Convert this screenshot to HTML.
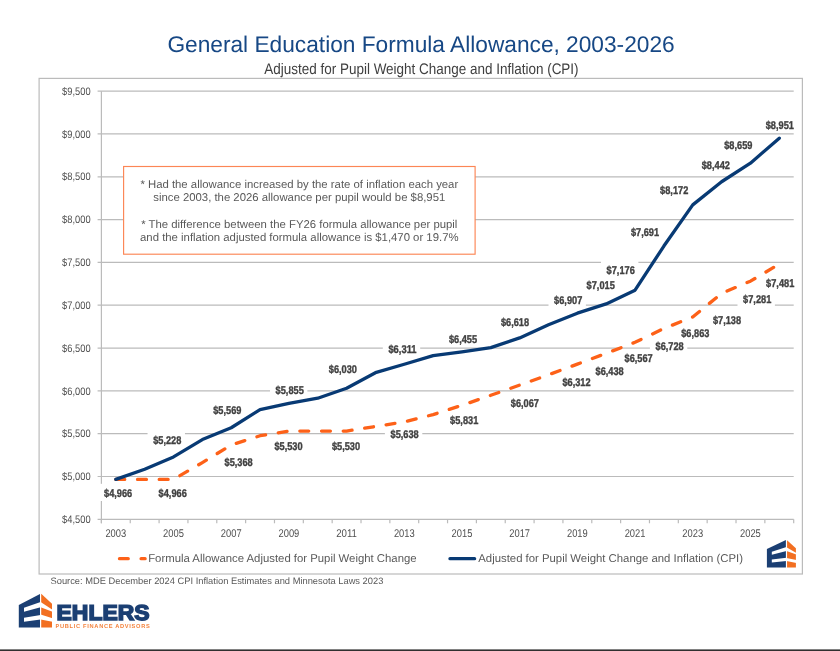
<!DOCTYPE html>
<html><head><meta charset="utf-8"><title>General Education Formula Allowance</title>
<style>html,body{margin:0;padding:0;background:#fff;width:840px;height:651px;overflow:hidden} text{text-rendering:geometricPrecision;font-family:"Liberation Sans",sans-serif}</style>
</head><body>
<svg width="840" height="651" viewBox="0 0 840 651" style="display:block;filter:blur(0.45px)">
<rect x="0" y="0" width="840" height="651" fill="#ffffff"/>
<rect x="39.1" y="78.4" width="763.3" height="495.6" fill="none" stroke="#bbbbbb" stroke-width="1.2"/>
<text x="167.4" y="52.0" font-family="Liberation Sans" font-size="22.7" fill="#174885" textLength="507.3" lengthAdjust="spacingAndGlyphs">General Education Formula Allowance, 2003-2026</text>
<text x="264.3" y="73.7" font-family="Liberation Sans" font-size="15.3" fill="#404040" textLength="314.3" lengthAdjust="spacingAndGlyphs">Adjusted for Pupil Weight Change and Inflation (CPI)</text>
<line x1="97.6" y1="519.29" x2="793.70" y2="519.29" stroke="#bbbbbb" stroke-width="1.2"/>
<text x="90.6" y="522.99" text-anchor="end" font-family="Liberation Sans" font-size="10.9" fill="#505050" textLength="28.5" lengthAdjust="spacingAndGlyphs">$4,500</text>
<line x1="97.6" y1="476.48" x2="793.70" y2="476.48" stroke="#bbbbbb" stroke-width="1.2"/>
<text x="90.6" y="480.18" text-anchor="end" font-family="Liberation Sans" font-size="10.9" fill="#505050" textLength="28.5" lengthAdjust="spacingAndGlyphs">$5,000</text>
<line x1="97.6" y1="433.67" x2="793.70" y2="433.67" stroke="#bbbbbb" stroke-width="1.2"/>
<text x="90.6" y="437.37" text-anchor="end" font-family="Liberation Sans" font-size="10.9" fill="#505050" textLength="28.5" lengthAdjust="spacingAndGlyphs">$5,500</text>
<line x1="97.6" y1="390.85" x2="793.70" y2="390.85" stroke="#bbbbbb" stroke-width="1.2"/>
<text x="90.6" y="394.55" text-anchor="end" font-family="Liberation Sans" font-size="10.9" fill="#505050" textLength="28.5" lengthAdjust="spacingAndGlyphs">$6,000</text>
<line x1="97.6" y1="348.04" x2="793.70" y2="348.04" stroke="#bbbbbb" stroke-width="1.2"/>
<text x="90.6" y="351.74" text-anchor="end" font-family="Liberation Sans" font-size="10.9" fill="#505050" textLength="28.5" lengthAdjust="spacingAndGlyphs">$6,500</text>
<line x1="97.6" y1="305.22" x2="793.70" y2="305.22" stroke="#bbbbbb" stroke-width="1.2"/>
<text x="90.6" y="308.92" text-anchor="end" font-family="Liberation Sans" font-size="10.9" fill="#505050" textLength="28.5" lengthAdjust="spacingAndGlyphs">$7,000</text>
<line x1="97.6" y1="262.41" x2="793.70" y2="262.41" stroke="#bbbbbb" stroke-width="1.2"/>
<text x="90.6" y="266.11" text-anchor="end" font-family="Liberation Sans" font-size="10.9" fill="#505050" textLength="28.5" lengthAdjust="spacingAndGlyphs">$7,500</text>
<line x1="97.6" y1="219.60" x2="793.70" y2="219.60" stroke="#bbbbbb" stroke-width="1.2"/>
<text x="90.6" y="223.30" text-anchor="end" font-family="Liberation Sans" font-size="10.9" fill="#505050" textLength="28.5" lengthAdjust="spacingAndGlyphs">$8,000</text>
<line x1="97.6" y1="176.78" x2="793.70" y2="176.78" stroke="#bbbbbb" stroke-width="1.2"/>
<text x="90.6" y="180.48" text-anchor="end" font-family="Liberation Sans" font-size="10.9" fill="#505050" textLength="28.5" lengthAdjust="spacingAndGlyphs">$8,500</text>
<line x1="97.6" y1="133.97" x2="793.70" y2="133.97" stroke="#bbbbbb" stroke-width="1.2"/>
<text x="90.6" y="137.67" text-anchor="end" font-family="Liberation Sans" font-size="10.9" fill="#505050" textLength="28.5" lengthAdjust="spacingAndGlyphs">$9,000</text>
<line x1="97.6" y1="91.15" x2="793.70" y2="91.15" stroke="#bbbbbb" stroke-width="1.2"/>
<text x="90.6" y="94.85" text-anchor="end" font-family="Liberation Sans" font-size="10.9" fill="#505050" textLength="28.5" lengthAdjust="spacingAndGlyphs">$9,500</text>
<line x1="101.4" y1="91.15" x2="101.4" y2="523.29" stroke="#bbbbbb" stroke-width="1.2"/>
<line x1="101.40" y1="519.29" x2="101.40" y2="523.29" stroke="#bbbbbb" stroke-width="1.2"/>
<line x1="130.25" y1="519.29" x2="130.25" y2="523.29" stroke="#bbbbbb" stroke-width="1.2"/>
<line x1="159.09" y1="519.29" x2="159.09" y2="523.29" stroke="#bbbbbb" stroke-width="1.2"/>
<line x1="187.94" y1="519.29" x2="187.94" y2="523.29" stroke="#bbbbbb" stroke-width="1.2"/>
<line x1="216.78" y1="519.29" x2="216.78" y2="523.29" stroke="#bbbbbb" stroke-width="1.2"/>
<line x1="245.63" y1="519.29" x2="245.63" y2="523.29" stroke="#bbbbbb" stroke-width="1.2"/>
<line x1="274.48" y1="519.29" x2="274.48" y2="523.29" stroke="#bbbbbb" stroke-width="1.2"/>
<line x1="303.32" y1="519.29" x2="303.32" y2="523.29" stroke="#bbbbbb" stroke-width="1.2"/>
<line x1="332.17" y1="519.29" x2="332.17" y2="523.29" stroke="#bbbbbb" stroke-width="1.2"/>
<line x1="361.01" y1="519.29" x2="361.01" y2="523.29" stroke="#bbbbbb" stroke-width="1.2"/>
<line x1="389.86" y1="519.29" x2="389.86" y2="523.29" stroke="#bbbbbb" stroke-width="1.2"/>
<line x1="418.70" y1="519.29" x2="418.70" y2="523.29" stroke="#bbbbbb" stroke-width="1.2"/>
<line x1="447.55" y1="519.29" x2="447.55" y2="523.29" stroke="#bbbbbb" stroke-width="1.2"/>
<line x1="476.40" y1="519.29" x2="476.40" y2="523.29" stroke="#bbbbbb" stroke-width="1.2"/>
<line x1="505.24" y1="519.29" x2="505.24" y2="523.29" stroke="#bbbbbb" stroke-width="1.2"/>
<line x1="534.09" y1="519.29" x2="534.09" y2="523.29" stroke="#bbbbbb" stroke-width="1.2"/>
<line x1="562.93" y1="519.29" x2="562.93" y2="523.29" stroke="#bbbbbb" stroke-width="1.2"/>
<line x1="591.78" y1="519.29" x2="591.78" y2="523.29" stroke="#bbbbbb" stroke-width="1.2"/>
<line x1="620.62" y1="519.29" x2="620.62" y2="523.29" stroke="#bbbbbb" stroke-width="1.2"/>
<line x1="649.47" y1="519.29" x2="649.47" y2="523.29" stroke="#bbbbbb" stroke-width="1.2"/>
<line x1="678.32" y1="519.29" x2="678.32" y2="523.29" stroke="#bbbbbb" stroke-width="1.2"/>
<line x1="707.16" y1="519.29" x2="707.16" y2="523.29" stroke="#bbbbbb" stroke-width="1.2"/>
<line x1="736.01" y1="519.29" x2="736.01" y2="523.29" stroke="#bbbbbb" stroke-width="1.2"/>
<line x1="764.85" y1="519.29" x2="764.85" y2="523.29" stroke="#bbbbbb" stroke-width="1.2"/>
<line x1="793.70" y1="519.29" x2="793.70" y2="523.29" stroke="#bbbbbb" stroke-width="1.2"/>
<text x="115.82" y="537" text-anchor="middle" font-family="Liberation Sans" font-size="11.2" fill="#505050" textLength="20.8" lengthAdjust="spacingAndGlyphs">2003</text>
<text x="173.51" y="537" text-anchor="middle" font-family="Liberation Sans" font-size="11.2" fill="#505050" textLength="20.8" lengthAdjust="spacingAndGlyphs">2005</text>
<text x="231.21" y="537" text-anchor="middle" font-family="Liberation Sans" font-size="11.2" fill="#505050" textLength="20.8" lengthAdjust="spacingAndGlyphs">2007</text>
<text x="288.90" y="537" text-anchor="middle" font-family="Liberation Sans" font-size="11.2" fill="#505050" textLength="20.8" lengthAdjust="spacingAndGlyphs">2009</text>
<text x="346.59" y="537" text-anchor="middle" font-family="Liberation Sans" font-size="11.2" fill="#505050" textLength="20.8" lengthAdjust="spacingAndGlyphs">2011</text>
<text x="404.28" y="537" text-anchor="middle" font-family="Liberation Sans" font-size="11.2" fill="#505050" textLength="20.8" lengthAdjust="spacingAndGlyphs">2013</text>
<text x="461.97" y="537" text-anchor="middle" font-family="Liberation Sans" font-size="11.2" fill="#505050" textLength="20.8" lengthAdjust="spacingAndGlyphs">2015</text>
<text x="519.66" y="537" text-anchor="middle" font-family="Liberation Sans" font-size="11.2" fill="#505050" textLength="20.8" lengthAdjust="spacingAndGlyphs">2017</text>
<text x="577.36" y="537" text-anchor="middle" font-family="Liberation Sans" font-size="11.2" fill="#505050" textLength="20.8" lengthAdjust="spacingAndGlyphs">2019</text>
<text x="635.05" y="537" text-anchor="middle" font-family="Liberation Sans" font-size="11.2" fill="#505050" textLength="20.8" lengthAdjust="spacingAndGlyphs">2021</text>
<text x="692.74" y="537" text-anchor="middle" font-family="Liberation Sans" font-size="11.2" fill="#505050" textLength="20.8" lengthAdjust="spacingAndGlyphs">2023</text>
<text x="750.43" y="537" text-anchor="middle" font-family="Liberation Sans" font-size="11.2" fill="#505050" textLength="20.8" lengthAdjust="spacingAndGlyphs">2025</text>
<rect x="123.6" y="166.5" width="351.5" height="87.7" fill="#ffffff" stroke="#fc8655" stroke-width="1.15"/>
<text x="299.3" y="188.2" text-anchor="middle" font-family="Liberation Sans" font-size="11.35" fill="#595959">* Had the allowance increased by the rate of inflation each year</text>
<text x="299.3" y="201.2" text-anchor="middle" font-family="Liberation Sans" font-size="11.35" fill="#595959">since 2003, the 2026 allowance per pupil would be $8,951</text>
<text x="299.3" y="228.4" text-anchor="middle" font-family="Liberation Sans" font-size="11.35" fill="#595959">* The difference between the FY26 formula allowance per pupil</text>
<text x="299.3" y="240.9" text-anchor="middle" font-family="Liberation Sans" font-size="11.35" fill="#595959">and the inflation adjusted formula allowance is $1,470 or 19.7%</text>
<rect x="98.40" y="483.80" width="37.4" height="17.2" fill="#ffffff"/>
<rect x="147.55" y="430.80" width="37.4" height="17.2" fill="#ffffff"/>
<rect x="207.60" y="400.90" width="37.4" height="17.2" fill="#ffffff"/>
<rect x="270.00" y="380.60" width="37.4" height="17.2" fill="#ffffff"/>
<rect x="323.20" y="359.80" width="37.4" height="17.2" fill="#ffffff"/>
<rect x="382.80" y="339.70" width="37.4" height="17.2" fill="#ffffff"/>
<rect x="443.30" y="329.50" width="37.4" height="17.2" fill="#ffffff"/>
<rect x="495.30" y="313.30" width="37.4" height="17.2" fill="#ffffff"/>
<rect x="548.50" y="290.50" width="37.4" height="17.2" fill="#ffffff"/>
<rect x="581.00" y="276.30" width="37.4" height="17.2" fill="#ffffff"/>
<rect x="601.00" y="260.90" width="37.4" height="17.2" fill="#ffffff"/>
<rect x="625.30" y="223.30" width="37.4" height="17.2" fill="#ffffff"/>
<rect x="654.50" y="180.90" width="37.4" height="17.2" fill="#ffffff"/>
<rect x="696.10" y="155.50" width="37.4" height="17.2" fill="#ffffff"/>
<rect x="718.60" y="135.90" width="37.4" height="17.2" fill="#ffffff"/>
<rect x="760.10" y="115.70" width="37.4" height="17.2" fill="#ffffff"/>
<rect x="153.00" y="484.20" width="37.4" height="17.2" fill="#ffffff"/>
<rect x="218.95" y="453.00" width="37.4" height="17.2" fill="#ffffff"/>
<rect x="268.80" y="436.40" width="37.4" height="17.2" fill="#ffffff"/>
<rect x="326.30" y="436.40" width="37.4" height="17.2" fill="#ffffff"/>
<rect x="384.90" y="424.50" width="37.4" height="17.2" fill="#ffffff"/>
<rect x="444.50" y="410.70" width="37.4" height="17.2" fill="#ffffff"/>
<rect x="505.20" y="393.60" width="37.4" height="17.2" fill="#ffffff"/>
<rect x="556.80" y="372.60" width="37.4" height="17.2" fill="#ffffff"/>
<rect x="589.90" y="362.30" width="37.4" height="17.2" fill="#ffffff"/>
<rect x="618.90" y="348.90" width="37.4" height="17.2" fill="#ffffff"/>
<rect x="649.90" y="336.60" width="37.4" height="17.2" fill="#ffffff"/>
<rect x="675.60" y="324.20" width="37.4" height="17.2" fill="#ffffff"/>
<rect x="707.30" y="310.60" width="37.4" height="17.2" fill="#ffffff"/>
<rect x="737.50" y="290.20" width="37.4" height="17.2" fill="#ffffff"/>
<rect x="760.50" y="274.10" width="37.4" height="17.2" fill="#ffffff"/>
<polyline points="115.82,479.39 144.67,479.39 173.51,479.39 202.36,462.61 231.21,444.97 260.05,435.72 288.90,431.10 317.74,431.10 346.59,431.10 375.44,426.47 404.28,421.85 433.13,414.57 461.97,405.32 490.82,395.30 519.66,385.11 548.51,374.75 577.36,364.14 606.20,353.35 635.05,342.30 663.89,328.51 692.74,316.96 721.59,293.41 750.43,281.16 779.28,264.04" fill="none" stroke="#fd6118" stroke-width="3.3" stroke-linecap="round" stroke-linejoin="round" stroke-dasharray="8.9 12.8"/>
<polyline points="115.82,479.39 144.67,469.20 173.51,456.96 202.36,439.57 231.21,427.76 260.05,409.60 288.90,403.27 317.74,398.22 346.59,388.28 375.44,372.70 404.28,364.22 433.13,355.57 461.97,351.89 490.82,347.61 519.66,337.93 548.51,324.75 577.36,313.19 606.20,303.94 635.05,290.15 663.89,246.06 692.74,204.87 721.59,181.75 750.43,163.17 779.28,138.16" fill="none" stroke="#083a74" stroke-width="3.3" stroke-linecap="round" stroke-linejoin="round"/>
<text x="118.10" y="496.90" text-anchor="middle" font-family="Liberation Sans" font-weight="bold" font-size="11.2" fill="#404040" stroke="#404040" stroke-width="0.35" textLength="28.2" lengthAdjust="spacingAndGlyphs">$4,966</text>
<text x="167.25" y="443.90" text-anchor="middle" font-family="Liberation Sans" font-weight="bold" font-size="11.2" fill="#404040" stroke="#404040" stroke-width="0.35" textLength="28.2" lengthAdjust="spacingAndGlyphs">$5,228</text>
<text x="227.30" y="414.00" text-anchor="middle" font-family="Liberation Sans" font-weight="bold" font-size="11.2" fill="#404040" stroke="#404040" stroke-width="0.35" textLength="28.2" lengthAdjust="spacingAndGlyphs">$5,569</text>
<text x="289.70" y="393.70" text-anchor="middle" font-family="Liberation Sans" font-weight="bold" font-size="11.2" fill="#404040" stroke="#404040" stroke-width="0.35" textLength="28.2" lengthAdjust="spacingAndGlyphs">$5,855</text>
<text x="342.90" y="372.90" text-anchor="middle" font-family="Liberation Sans" font-weight="bold" font-size="11.2" fill="#404040" stroke="#404040" stroke-width="0.35" textLength="28.2" lengthAdjust="spacingAndGlyphs">$6,030</text>
<text x="402.50" y="352.80" text-anchor="middle" font-family="Liberation Sans" font-weight="bold" font-size="11.2" fill="#404040" stroke="#404040" stroke-width="0.35" textLength="28.2" lengthAdjust="spacingAndGlyphs">$6,311</text>
<text x="463.00" y="342.60" text-anchor="middle" font-family="Liberation Sans" font-weight="bold" font-size="11.2" fill="#404040" stroke="#404040" stroke-width="0.35" textLength="28.2" lengthAdjust="spacingAndGlyphs">$6,455</text>
<text x="515.00" y="326.40" text-anchor="middle" font-family="Liberation Sans" font-weight="bold" font-size="11.2" fill="#404040" stroke="#404040" stroke-width="0.35" textLength="28.2" lengthAdjust="spacingAndGlyphs">$6,618</text>
<text x="568.20" y="303.60" text-anchor="middle" font-family="Liberation Sans" font-weight="bold" font-size="11.2" fill="#404040" stroke="#404040" stroke-width="0.35" textLength="28.2" lengthAdjust="spacingAndGlyphs">$6,907</text>
<text x="600.70" y="289.40" text-anchor="middle" font-family="Liberation Sans" font-weight="bold" font-size="11.2" fill="#404040" stroke="#404040" stroke-width="0.35" textLength="28.2" lengthAdjust="spacingAndGlyphs">$7,015</text>
<text x="620.70" y="274.00" text-anchor="middle" font-family="Liberation Sans" font-weight="bold" font-size="11.2" fill="#404040" stroke="#404040" stroke-width="0.35" textLength="28.2" lengthAdjust="spacingAndGlyphs">$7,176</text>
<text x="645.00" y="236.40" text-anchor="middle" font-family="Liberation Sans" font-weight="bold" font-size="11.2" fill="#404040" stroke="#404040" stroke-width="0.35" textLength="28.2" lengthAdjust="spacingAndGlyphs">$7,691</text>
<text x="674.20" y="194.00" text-anchor="middle" font-family="Liberation Sans" font-weight="bold" font-size="11.2" fill="#404040" stroke="#404040" stroke-width="0.35" textLength="28.2" lengthAdjust="spacingAndGlyphs">$8,172</text>
<text x="715.80" y="168.60" text-anchor="middle" font-family="Liberation Sans" font-weight="bold" font-size="11.2" fill="#404040" stroke="#404040" stroke-width="0.35" textLength="28.2" lengthAdjust="spacingAndGlyphs">$8,442</text>
<text x="738.30" y="149.00" text-anchor="middle" font-family="Liberation Sans" font-weight="bold" font-size="11.2" fill="#404040" stroke="#404040" stroke-width="0.35" textLength="28.2" lengthAdjust="spacingAndGlyphs">$8,659</text>
<text x="779.80" y="128.80" text-anchor="middle" font-family="Liberation Sans" font-weight="bold" font-size="11.2" fill="#404040" stroke="#404040" stroke-width="0.35" textLength="28.2" lengthAdjust="spacingAndGlyphs">$8,951</text>
<text x="172.70" y="497.30" text-anchor="middle" font-family="Liberation Sans" font-weight="bold" font-size="11.2" fill="#404040" stroke="#404040" stroke-width="0.35" textLength="28.2" lengthAdjust="spacingAndGlyphs">$4,966</text>
<text x="238.65" y="466.10" text-anchor="middle" font-family="Liberation Sans" font-weight="bold" font-size="11.2" fill="#404040" stroke="#404040" stroke-width="0.35" textLength="28.2" lengthAdjust="spacingAndGlyphs">$5,368</text>
<text x="288.50" y="449.50" text-anchor="middle" font-family="Liberation Sans" font-weight="bold" font-size="11.2" fill="#404040" stroke="#404040" stroke-width="0.35" textLength="28.2" lengthAdjust="spacingAndGlyphs">$5,530</text>
<text x="346.00" y="449.50" text-anchor="middle" font-family="Liberation Sans" font-weight="bold" font-size="11.2" fill="#404040" stroke="#404040" stroke-width="0.35" textLength="28.2" lengthAdjust="spacingAndGlyphs">$5,530</text>
<text x="404.60" y="437.60" text-anchor="middle" font-family="Liberation Sans" font-weight="bold" font-size="11.2" fill="#404040" stroke="#404040" stroke-width="0.35" textLength="28.2" lengthAdjust="spacingAndGlyphs">$5,638</text>
<text x="464.20" y="423.80" text-anchor="middle" font-family="Liberation Sans" font-weight="bold" font-size="11.2" fill="#404040" stroke="#404040" stroke-width="0.35" textLength="28.2" lengthAdjust="spacingAndGlyphs">$5,831</text>
<text x="524.90" y="406.70" text-anchor="middle" font-family="Liberation Sans" font-weight="bold" font-size="11.2" fill="#404040" stroke="#404040" stroke-width="0.35" textLength="28.2" lengthAdjust="spacingAndGlyphs">$6,067</text>
<text x="576.50" y="385.70" text-anchor="middle" font-family="Liberation Sans" font-weight="bold" font-size="11.2" fill="#404040" stroke="#404040" stroke-width="0.35" textLength="28.2" lengthAdjust="spacingAndGlyphs">$6,312</text>
<text x="609.60" y="375.40" text-anchor="middle" font-family="Liberation Sans" font-weight="bold" font-size="11.2" fill="#404040" stroke="#404040" stroke-width="0.35" textLength="28.2" lengthAdjust="spacingAndGlyphs">$6,438</text>
<text x="638.60" y="362.00" text-anchor="middle" font-family="Liberation Sans" font-weight="bold" font-size="11.2" fill="#404040" stroke="#404040" stroke-width="0.35" textLength="28.2" lengthAdjust="spacingAndGlyphs">$6,567</text>
<text x="669.60" y="349.70" text-anchor="middle" font-family="Liberation Sans" font-weight="bold" font-size="11.2" fill="#404040" stroke="#404040" stroke-width="0.35" textLength="28.2" lengthAdjust="spacingAndGlyphs">$6,728</text>
<text x="695.30" y="337.30" text-anchor="middle" font-family="Liberation Sans" font-weight="bold" font-size="11.2" fill="#404040" stroke="#404040" stroke-width="0.35" textLength="28.2" lengthAdjust="spacingAndGlyphs">$6,863</text>
<text x="727.00" y="323.70" text-anchor="middle" font-family="Liberation Sans" font-weight="bold" font-size="11.2" fill="#404040" stroke="#404040" stroke-width="0.35" textLength="28.2" lengthAdjust="spacingAndGlyphs">$7,138</text>
<text x="757.20" y="303.30" text-anchor="middle" font-family="Liberation Sans" font-weight="bold" font-size="11.2" fill="#404040" stroke="#404040" stroke-width="0.35" textLength="28.2" lengthAdjust="spacingAndGlyphs">$7,281</text>
<text x="780.20" y="287.20" text-anchor="middle" font-family="Liberation Sans" font-weight="bold" font-size="11.2" fill="#404040" stroke="#404040" stroke-width="0.35" textLength="28.2" lengthAdjust="spacingAndGlyphs">$7,481</text>
<line x1="119.5" y1="558.7" x2="128.2" y2="558.7" stroke="#fd6118" stroke-width="3.3" stroke-linecap="round"/>
<line x1="141.1" y1="558.7" x2="145.1" y2="558.7" stroke="#fd6118" stroke-width="3.3" stroke-linecap="round"/>
<text x="148.2" y="562.3" font-family="Liberation Sans" font-size="11.35" fill="#595959">Formula Allowance Adjusted for Pupil Weight Change</text>
<line x1="450" y1="558.7" x2="474.6" y2="558.7" stroke="#083a74" stroke-width="3.3" stroke-linecap="round"/>
<text x="478.3" y="562.3" font-family="Liberation Sans" font-size="11.35" fill="#595959">Adjusted for Pupil Weight Change and Inflation (CPI)</text>
<polygon points="18.8,605.1 40.0,594.0 40.0,627.5 18.8,627.5" fill="#1b3f73"/>
<polygon points="41.2,593.7 52.0,603.8 52.0,627.5 41.2,627.5" fill="#f26f21"/>
<polygon points="24.0,607.8 40.6,602.0 40.6,607.2 24.0,611.8" fill="#ffffff"/>
<polygon points="24.0,617.7 40.6,614.9 40.6,619.5 24.0,621.7" fill="#ffffff"/>
<polygon points="40.6,602.0 52.5,609.7 52.5,611.8 40.6,607.2" fill="#ffffff"/>
<polygon points="40.6,614.6 52.5,618.3 52.5,621.7 40.6,619.5" fill="#ffffff"/>
<polygon points="766.9,549.05 785.9,539.9 785.9,567.5 766.9,567.5" fill="#1b3f73"/>
<polygon points="787.05,540.2 795.9,548.3 795.9,567.5 787.05,567.5" fill="#f26f21"/>
<polygon points="771.8,551.7 786.5,547.0 786.5,551.1 771.8,554.8" fill="#ffffff"/>
<polygon points="771.8,559.5 786.5,557.7 786.5,561.1 771.8,562.6" fill="#ffffff"/>
<polygon points="786.4499999999999,547.2 796.4,553.0 796.4,554.5 786.4499999999999,550.9" fill="#ffffff"/>
<polygon points="786.4499999999999,557.9 796.4,560.0 796.4,562.9 786.4499999999999,561.1" fill="#ffffff"/>
<text x="56.6" y="619.6" font-family="Liberation Sans" font-weight="bold" font-size="21.6" fill="#1b3f73" stroke="#1b3f73" stroke-width="1.5" stroke-linejoin="miter" textLength="92.9" lengthAdjust="spacingAndGlyphs">EHLERS</text>
<text x="55.5" y="627.8" font-family="Liberation Sans" font-weight="bold" font-size="5.7" fill="#f4843f" textLength="94.3" lengthAdjust="spacing">PUBLIC FINANCE ADVISORS</text>
<text x="50.5" y="584.4" font-family="Liberation Sans" font-size="9.34" fill="#595959">Source: MDE December 2024 CPI Inflation Estimates and Minnesota Laws 2023</text>
<rect x="0" y="649.4" width="840" height="1.6" fill="#303030"/>
</svg>
</body></html>
